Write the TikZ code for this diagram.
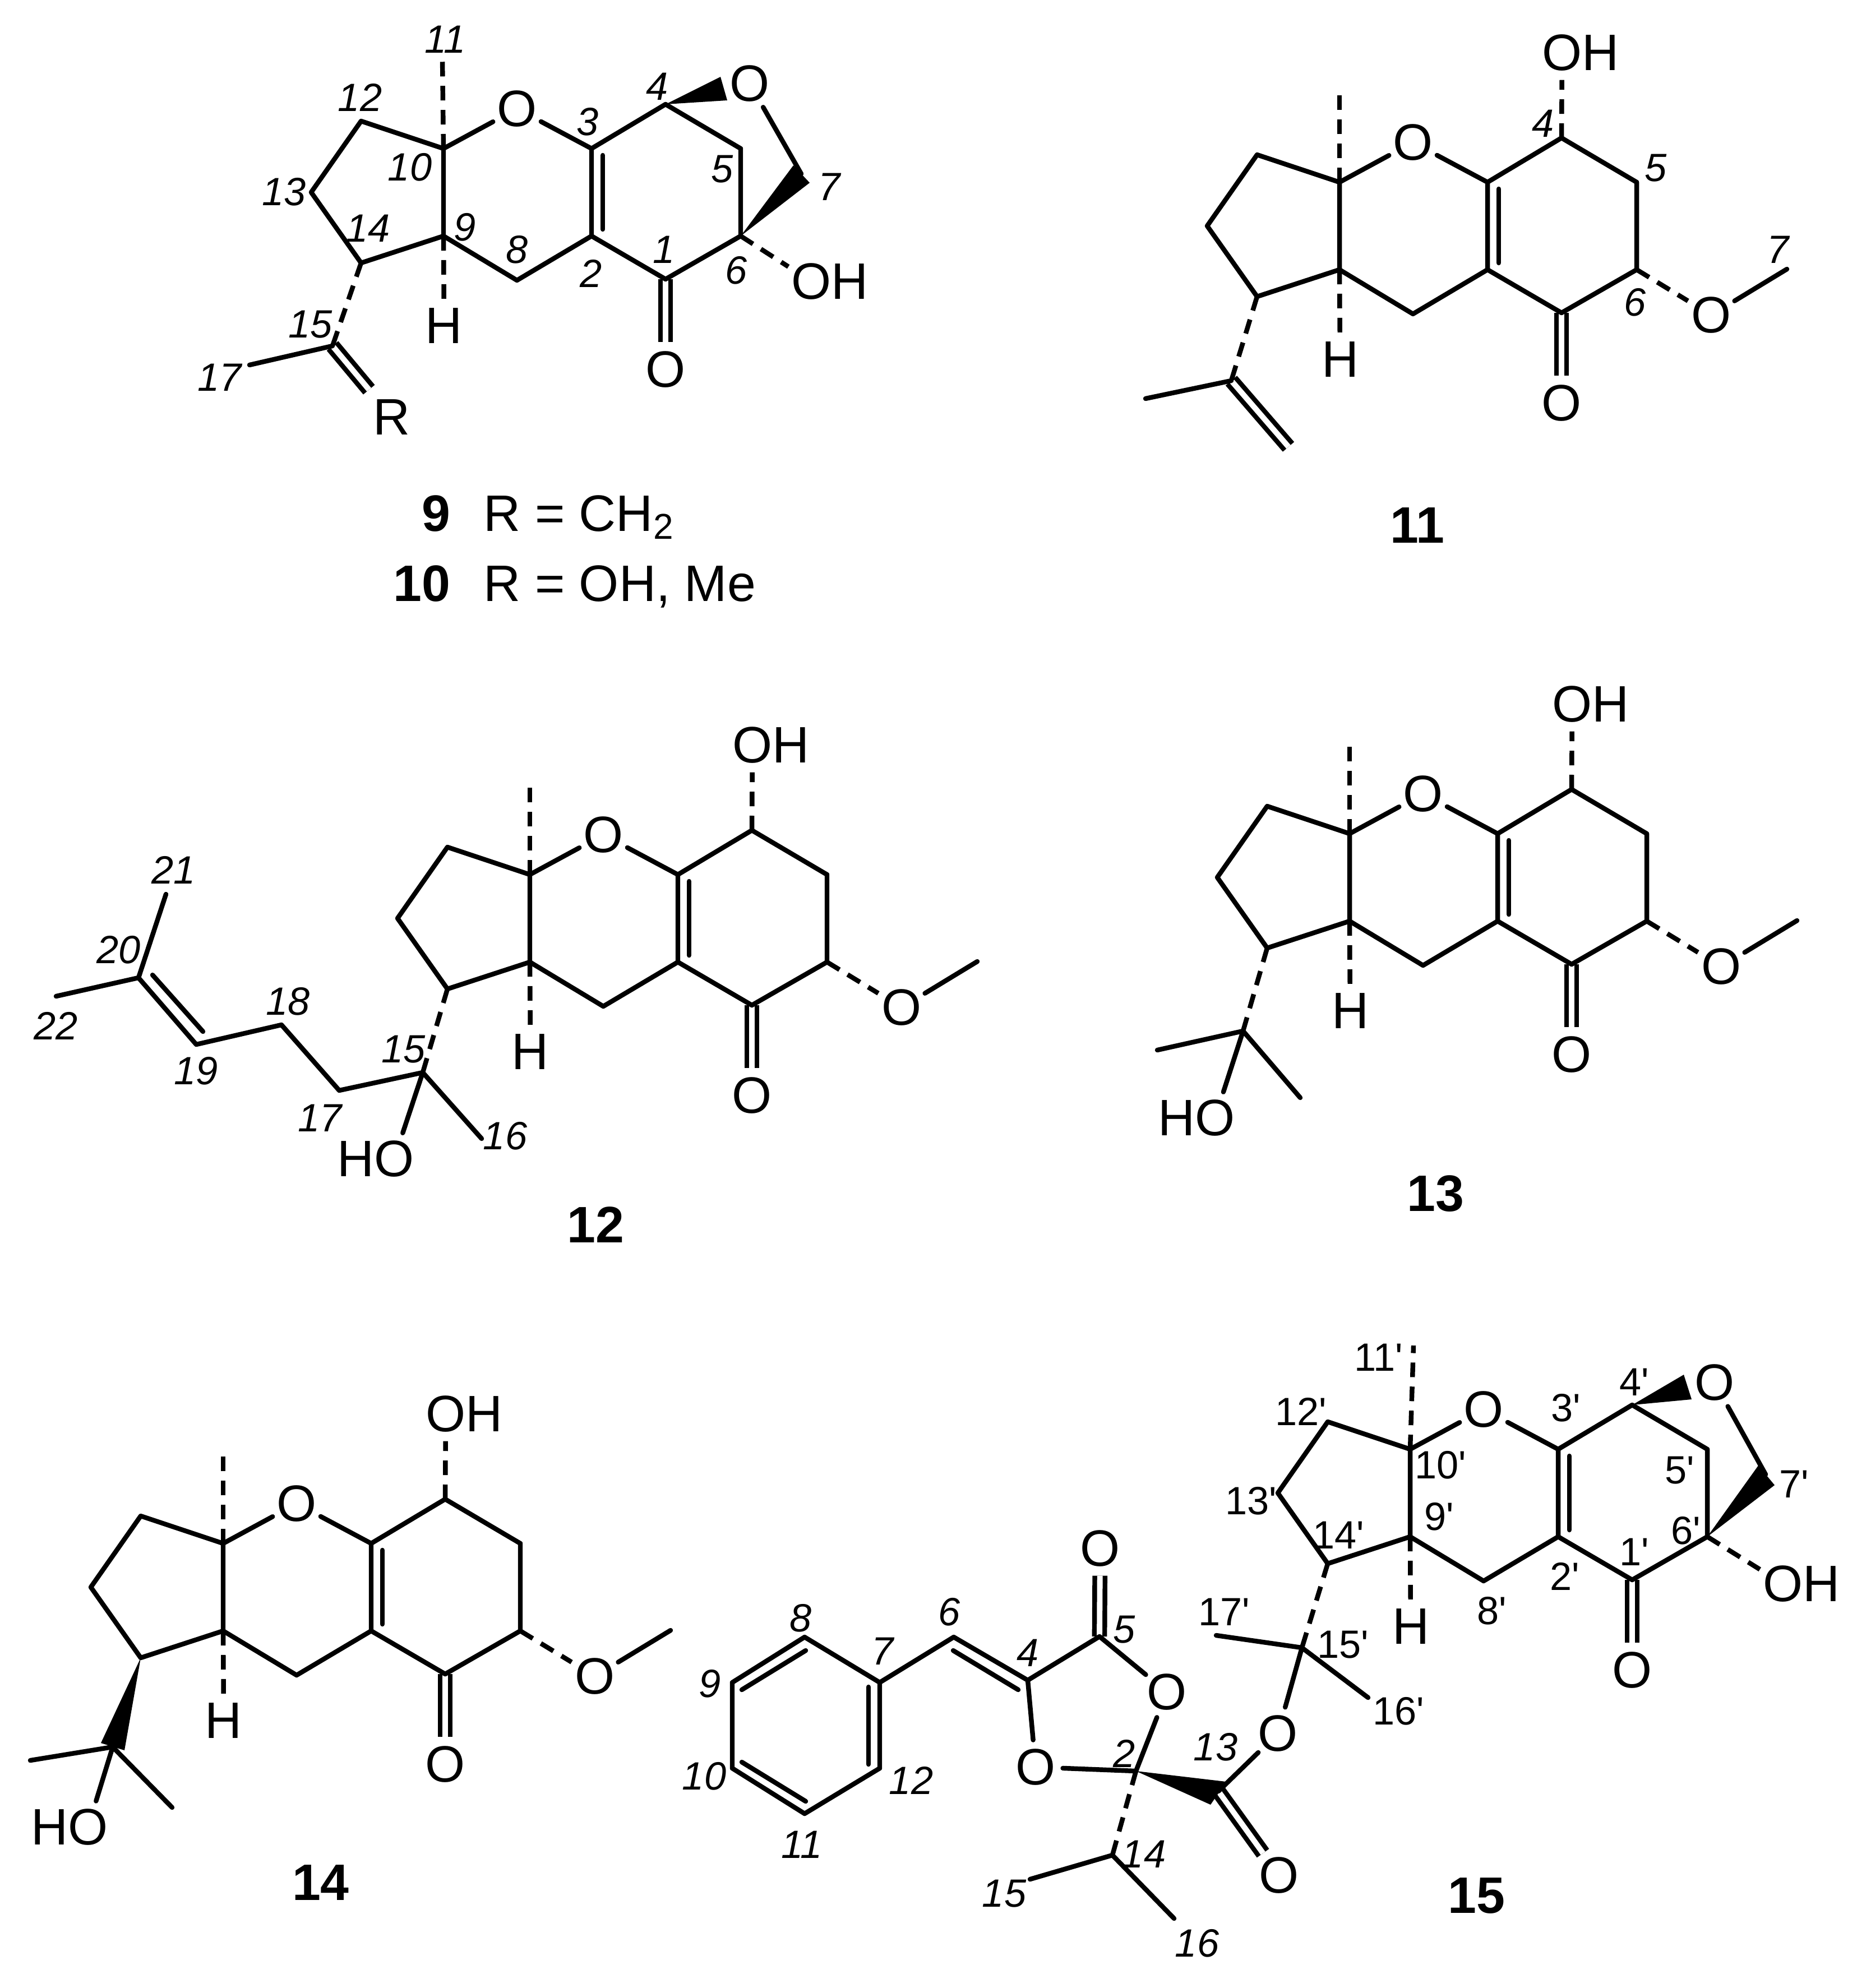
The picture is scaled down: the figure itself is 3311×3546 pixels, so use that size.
\documentclass[tikz,border=0pt]{standalone}
\usepackage{fontspec}
\setmainfont{Liberation Sans}[Ligatures=TeXOff]
\tikzset{
  bond/.style={line width=2.4pt,line join=round,line cap=round},
  hash/.style={line width=2.4pt,dash pattern=on 7.4pt off 4.8pt},
  dbl/.style={line width=2.4pt,double,double distance=2.8pt},
  atom/.style={circle,inner sep=0pt,font=\fontsize{26}{30}\selectfont},
  numlab/.style={inner sep=0pt,font=\fontsize{20}{24}\selectfont\itshape},
  primelab/.style={inner sep=0pt,font=\fontsize{20}{24}\selectfont},
  cpd/.style={inner sep=0pt,font=\fontsize{26}{30}\selectfont\bfseries},
  rtext/.style={inner sep=0pt,font=\fontsize{26}{30}\selectfont},
}
% tricyclic core: prefix, position of C10, end of the methyl
\newcommand{\ringcore}[4]{
  \begin{scope}[shift={(#2,#3)},name prefix=#1-]
    \coordinate (c10) at (0,0);
    \coordinate (c9) at (0,156);
    \coordinate (c12) at (-147,-49);
    \coordinate (c13) at (-236,78);
    \coordinate (c14) at (-147,204);
    \coordinate (c8) at (131,235);
    \coordinate (c2) at (264,156);
    \coordinate (c3) at (264,0);
    \coordinate (c1) at (396,233);
    \coordinate (c6) at (530,156);
    \coordinate (c5) at (530,0);
    \coordinate (c4) at (396,-79);
    \coordinate (c11) at #4;
    \node[atom] (o) at (131,-71) {O};
    \node[atom] (oc) at (396,394) {O};
    \node[atom] (h) at (1,316) {H};
    \draw[dbl] (c1) -- (oc);
    \draw[bond] (c10) -- (c12) -- (c13) -- (c14) -- (c9) -- cycle;
    \draw[bond] (c10) -- (o) -- (c3) -- (c2) -- (c8) -- (c9);
    \draw[bond] (c3) -- (c4) -- (c5) -- (c6) -- (c1) -- (c2);
    \draw[bond] (c3) ++(20,12) -- ++(0,132);
    \draw[hash] (c10) -- (c11);
    \draw[hash] (c9) -- (h);
  \end{scope}
}
% OH on C4 and OMe on C6
\newcommand{\sidegroups}[3]{
  \begin{scope}[shift={(#2,#3)},name prefix=#1-]
    \node[atom] (oh) at (397,-231) {O\rlap{H}};
    \node[atom] (ome) at (663,237) {O};
    \coordinate (me) at (798,155);
    \draw[hash] (c4) -- (oh);
    \draw[hash] (c6) -- (ome);
    \draw[bond] (ome) -- (me);
  \end{scope}
}
\begin{document}
\begin{tikzpicture}[x=0.01cm,y=-0.01cm]
  \useasboundingbox (0,0) rectangle (3311,3546);

  % 9, 10
  \ringcore{a}{791}{265}{(-2,-160)}
  \node[atom] (a-obr) at (1337,149) {O};
  \node[atom] (a-oh) at (1447,502) {O\rlap{H}};
  \node[atom] (a-r) at (699,744) {R};
  \coordinate (a-c15) at (593,617);
  \coordinate (a-c17) at (445,651);
  \coordinate (a-c7) at (1429,310);
  \fill (a-c4) -- ++(98,-49) -- ++(12,42) -- cycle;
  \fill (a-c6) -- ++(94,-126) -- ++(29,31) -- cycle;
  \draw[bond] (a-c7) -- (a-obr);
  \draw[hash] (a-c6) -- (a-oh);
  \draw[dbl,shorten >=5pt] (a-c15) -- (a-r);
  \draw[hash] (a-c14) -- (a-c15);
  \draw[bond] (a-c15) -- (a-c17);
  \foreach \px/\py/\txt in {794/70/11,642/174/12,1172/154/4,1048/217/3,731/298/10,1288/302/5,
    1479/333/7,507/342/13,657/407/14,829/405/9,922/445/8,1184/445/1,1054/488/2,1313/482/6,
    554/579/15,392/673/17}
    \node[numlab] (a-l\txt) at (\px,\py) {\txt};
  \node[cpd,anchor=base east] (a-nine) at (804,947) {9};
  \node[rtext,anchor=base west] (a-rone) at (862,947) {R = CH\textsubscript{2}};
  \node[cpd,anchor=base east] (a-ten) at (804,1072) {10};
  \node[rtext,anchor=base west] (a-rtwo) at (862,1072) {R = OH, Me};

  % 11
  \ringcore{b}{2389}{325}{(0,-158)}
  \sidegroups{b}{2389}{325}
  \coordinate (b-c15) at (2196,679);
  \coordinate (b-c17) at (2043,711);
  \coordinate (b-c16) at (2298,797);
  \draw[dbl] (b-c15) -- (b-c16);
  \draw[hash] (b-c14) -- (b-c15);
  \draw[bond] (b-c15) -- (b-c17);
  \foreach \px/\py/\txt in {2752/220/4,2953/300/5,2916/539/6,3171/445/7}
    \node[numlab] (b-l\txt) at (\px,\py) {\txt};
  \node[cpd] (b-name) at (2528,937) {11};

  % 12
  \ringcore{c}{945}{1560}{(0,-160)}
  \sidegroups{c}{945}{1560}
  \node[atom] (c-ho) at (703,2067) {\llap{H}O};
  \coordinate (c-c15) at (754,1913);
  \coordinate (c-c16) at (859,2031);
  \coordinate (c-c17) at (605,1945);
  \coordinate (c-c18) at (502,1828);
  \coordinate (c-c19) at (350,1863);
  \coordinate (c-c20) at (247,1744);
  \coordinate (c-c21) at (296,1595);
  \coordinate (c-c22) at (100,1777);
  \draw[hash] (c-c14) -- (c-c15);
  \draw[bond] (c-ho) -- (c-c15) -- (c-c16);
  \draw[bond] (c-c15) -- (c-c17) -- (c-c18) -- (c-c19) -- (c-c20) -- (c-c21);
  \draw[bond] (c-c20) -- (c-c22);
  \draw[bond] (c-c20) ++(25,-5) -- ++(90,101);
  \foreach \px/\py/\txt in {310/1552/21,212/1694/20,100/1830/22,350/1910/19,514/1786/18,
    571/1994/17,901/2026/16,720/1872/15}
    \node[numlab] (c-l\txt) at (\px,\py) {\txt};
  \node[cpd] (c-name) at (1062,2185) {12};

  % 13
  \ringcore{d}{2407}{1487}{(0,-158)}
  \sidegroups{d}{2407}{1487}
  \node[atom] (d-ho) at (2167,1994) {\llap{H}O};
  \coordinate (d-c15) at (2217,1839);
  \coordinate (d-c16) at (2319,1958);
  \coordinate (d-c17) at (2064,1873);
  \draw[hash] (d-c14) -- (d-c15);
  \draw[bond] (d-ho) -- (d-c15) -- (d-c16);
  \draw[bond] (d-c15) -- (d-c17);
  \node[cpd] (d-name) at (2560,2129) {13};

  % 14
  \ringcore{e}{398}{2753}{(0,-158)}
  \sidegroups{e}{398}{2753}
  \node[atom] (e-ho) at (157,3259) {\llap{H}O};
  \coordinate (e-c15) at (201,3116);
  \coordinate (e-c16) at (307,3224);
  \coordinate (e-c17) at (54,3140);
  \fill (e-c14) -- ++(-71,152) -- ++(42,13) -- cycle;
  \draw[bond] (e-ho) -- (e-c15) -- (e-c16);
  \draw[bond] (e-c15) -- (e-c17);
  \node[cpd] (e-name) at (572,3358) {14};

  % 15, upper half
  \ringcore{f}{2515}{2585}{(6,-185)}
  \node[atom] (f-obr) at (3058,2466) {O};
  \node[atom] (f-oh) at (3180,2825) {O\rlap{H}};
  \node[atom] (f-oe) at (2279,3092) {O};
  \coordinate (f-c7) at (3149,2630);
  \coordinate (f-c15) at (2322,2939);
  \coordinate (f-c16) at (2440,3028);
  \coordinate (f-c17) at (2169,2917);
  \fill (f-c4) -- ++(92,-54) -- ++(14,44) -- cycle;
  \fill (f-c6) -- ++(91,-127) -- ++(29,35) -- cycle;
  \draw[bond] (f-c7) -- (f-obr);
  \draw[hash] (f-c6) -- (f-oh);
  \draw[hash] (f-c14) -- (f-c15);
  \draw[bond] (f-oe) -- (f-c15) -- (f-c16);
  \draw[bond] (f-c15) -- (f-c17);
  \foreach \px/\py/\txt in {2459/2421/11,2915/2465/4,2793/2511/3,2320/2518/12,2569/2613/10,
    2996/2623/5,3200/2647/7,2231/2677/13,2567/2705/9,3007/2730/6,2387/2738/14,2915/2768/1,
    2791/2812/2,2661/2873/8,2183/2875/17,2395/2934/15,2494/3052/16}
    \node[primelab] (f-l\txt) at (\px,\py) {\txt'};

  % 15, lower half
  \coordinate (g-c2) at (2026,3159);
  \coordinate (g-c4) at (1833,2997);
  \coordinate (g-c5) at (1961,2919);
  \coordinate (g-c6) at (1701,2920);
  \coordinate (g-c7) at (1569,3001);
  \coordinate (g-c8) at (1435,2920);
  \coordinate (g-c9) at (1306,3001);
  \coordinate (g-c10) at (1306,3154);
  \coordinate (g-c11) at (1435,3235);
  \coordinate (g-c12) at (1569,3154);
  \coordinate (g-c13) at (2173,3195);
  \coordinate (g-c14) at (1984,3309);
  \coordinate (g-c15) at (1837,3352);
  \coordinate (g-c16) at (2094,3422);
  \node[atom] (g-o1) at (1962,2762) {O};
  \node[atom] (g-o3) at (2081,3018) {O};
  \node[atom] (g-o4) at (1847,3152) {O};
  \node[atom] (g-o5) at (2281,3345) {O};
  \draw[dbl] (g-c5) -- (g-o1);
  \draw[dbl] (g-c13) -- (g-o5);
  \draw[bond] (g-c7) -- (g-c8) -- (g-c9) -- (g-c10) -- (g-c11) -- (g-c12) -- cycle;
  \draw[bond] (g-c8) ++(2,24) -- ++(-114,70);
  \draw[bond] (g-c7) ++(-20,8) -- ++(0,138);
  \draw[bond] (g-c10) ++(17,-11) -- ++(114,70);
  \draw[bond] (g-c7) -- (g-c6) -- (g-c4) -- (g-c5) -- (g-o3) -- (g-c2) -- (g-o4) -- (g-c4);
  \draw[bond] (g-c6) ++(-1,24) -- ++(116,70);
  \fill (g-c2) -- ++(161,19) -- ++(-28,41) -- cycle;
  \draw[bond] (g-c13) -- (f-oe);
  \draw[hash] (g-c2) -- (g-c14);
  \draw[bond] (g-c15) -- (g-c14) -- (g-c16);
  \foreach \px/\py/\txt in {1428/2886/8,1574/2945/7,1693/2875/6,2005/2907/5,1833/2948/4,
    2005/3128/2,2168/3116/13,1625/3176/12,1430/3290/11,2040/3307/14,1791/3378/15,2135/3466/16,
    1266/3003/9,1256/3168/10}
    \node[numlab] (g-l\txt) at (\px,\py) {\txt};
  \node[cpd] (g-name) at (2633,3381) {15};
\end{tikzpicture}
\end{document}
